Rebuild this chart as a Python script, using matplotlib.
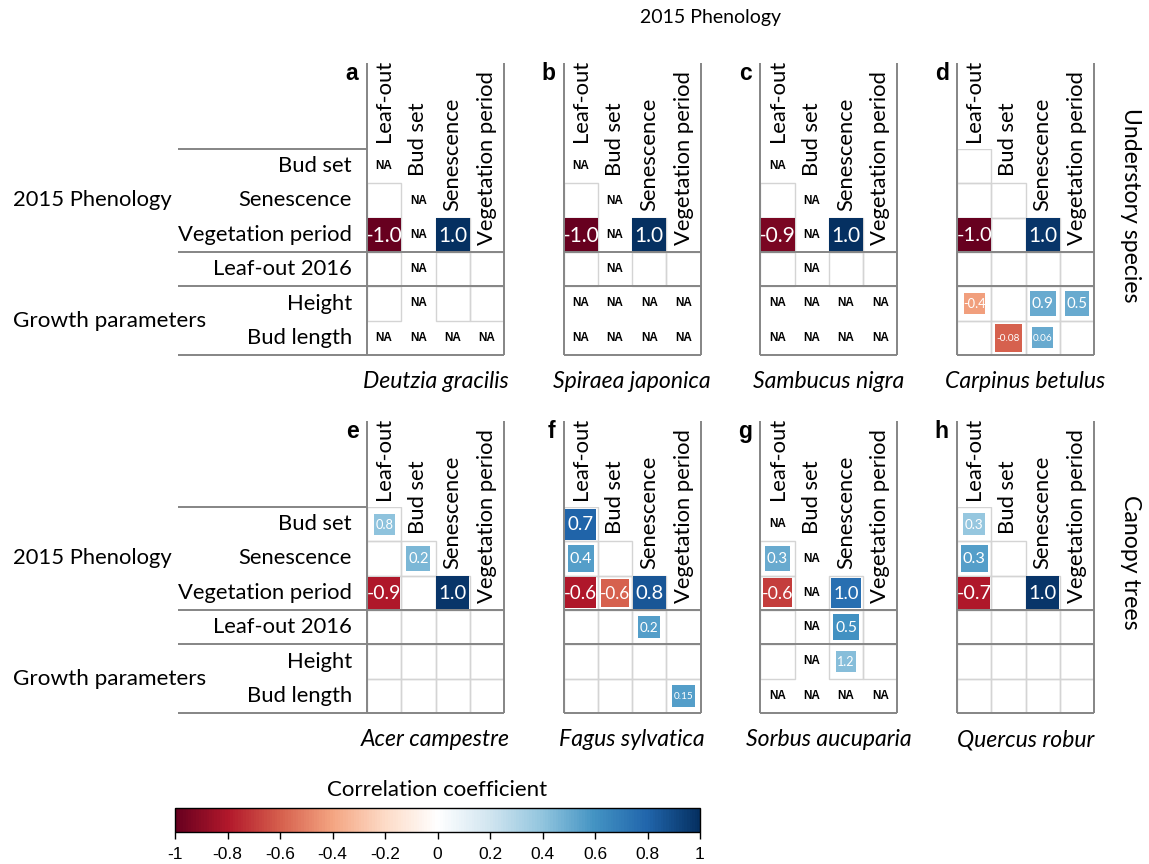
import numpy as np
import matplotlib
matplotlib.use("Agg")
import matplotlib.pyplot as plt
from matplotlib.colors import LinearSegmentedColormap, Normalize
from matplotlib.patches import Rectangle
from matplotlib.cm import ScalarMappable

# ---------------------------------------------------------------- data
ROW_NAMES = ["Bud set", "Senescence", "Vegetation period",
             "Leaf-out 2016", "Height", "Bud length"]
COL_NAMES = ["Leaf-out", "Bud set", "Senescence", "Vegetation period"]
GROUP_NAMES = ["2015 Phenology", "Growth parameters"]
TOP_TITLE = "2015 Phenology"
STRATA = ["Understory species", "Canopy trees"]
SPECIES = ["Deutzia gracilis", "Spiraea japonica", "Sambucus nigra",
           "Carpinus betulus", "Acer campestre", "Fagus sylvatica",
           "Sorbus aucuparia", "Quercus robur"]
LETTERS = ["a", "b", "c", "d", "e", "f", "g", "h"]

# coefficient cells: (row, column, printed value, colour value, square weight)
cells_a = [(2, 0, "-1.0", -1.0, 1.0), (2, 2, "1.0", 1.0, 1.0)]
cells_b = [(2, 0, "-1.0", -1.0, 1.0), (2, 2, "1.0", 1.0, 1.0)]
cells_c = [(2, 0, "-0.9", -0.95, 1.0), (2, 2, "1.0", 1.0, 1.0)]
cells_d = [(2, 0, "-1.0", -1.0, 0.97), (2, 2, "1.0", 0.97, 1.0),
           (4, 0, "-0.4", -0.42, 0.62), (4, 2, "0.9", 0.5, 0.75),
           (4, 3, "0.5", 0.5, 0.72), (5, 1, "-0.08", -0.6, 0.8),
           (5, 2, "0.06", 0.5, 0.62)]
cells_e = [(0, 0, "0.8", 0.4, 0.62), (1, 1, "0.2", 0.45, 0.7),
           (2, 0, "-0.9", -0.8, 0.93), (2, 2, "1.0", 0.97, 0.97)]
cells_f = [(0, 0, "0.7", 0.8, 0.9), (1, 0, "0.4", 0.55, 0.77),
           (2, 0, "-0.6", -0.8, 0.9), (2, 1, "-0.6", -0.6, 0.82),
           (2, 2, "0.8", 0.85, 0.97), (3, 2, "0.2", 0.55, 0.65),
           (5, 3, "0.15", 0.55, 0.65)]
cells_g = [(1, 0, "0.3", 0.5, 0.72), (2, 0, "-0.6", -0.7, 0.85),
           (2, 2, "1.0", 0.75, 0.88), (3, 2, "0.5", 0.6, 0.75),
           (4, 2, "1.2", 0.42, 0.6)]
cells_h = [(0, 0, "0.3", 0.38, 0.65), (1, 0, "0.3", 0.55, 0.78),
           (2, 0, "-0.7", -0.8, 0.95), (2, 2, "1.0", 0.97, 0.97)]

# cells without an estimate
na_a = [(0, 0), (1, 1), (2, 1), (3, 1), (4, 1), (5, 0), (5, 1), (5, 2), (5, 3)]
na_b = [(0, 0), (1, 1), (2, 1), (3, 1), (4, 0), (4, 1), (4, 2), (4, 3),
        (5, 0), (5, 1), (5, 2), (5, 3)]
na_c = [(0, 0), (1, 1), (2, 1), (3, 1), (4, 0), (4, 1), (4, 2), (4, 3),
        (5, 0), (5, 1), (5, 2), (5, 3)]
na_d = []
na_e = []
na_f = []
na_g = [(0, 0), (1, 1), (2, 1), (3, 1), (4, 1), (5, 0), (5, 1), (5, 2), (5, 3)]
na_h = []

PANEL_CELLS = [cells_a, cells_b, cells_c, cells_d, cells_e, cells_f, cells_g, cells_h]
PANEL_NA = [na_a, na_b, na_c, na_d, na_e, na_f, na_g, na_h]

CBAR_TICKS = [-1, -0.8, -0.6, -0.4, -0.2, 0, 0.2, 0.4, 0.6, 0.8, 1]

# ---------------------------------------------------------------- style
W, H = 1149, 864
BODY = ["Lato", "DejaVu Sans"]
ARIAL = ["Liberation Sans", "DejaVu Sans"]
DARK = "#858585"
LIGHT = "#d4d4d4"
LABEL_FS = 15.8

cmap = LinearSegmentedColormap.from_list(
    "corr", ["#67001F", "#B2182B", "#D6604D", "#F4A582", "#FDDBC7", "#FFFFFF",
             "#D1E5F0", "#92C5DE", "#4393C3", "#2166AC", "#053061"], N=200)
norm = Normalize(-1, 1)

fig = plt.figure(figsize=(W / 100, H / 100), dpi=100)


def box(x, y, w, h):
    return [x / W, 1 - (y + h) / H, w / W, h / H]


def has_cell(r, c):
    return c <= r if r < 3 else True


def draw_panel(ax, cells, na, letter, species, first_col):
    ax.set_xlim(0, 4)
    ax.set_ylim(6, 0)
    ax.axis("off")
    na_set = set(na)
    # light cell frames for cells that carry an estimate
    for r in range(6):
        for c in range(4):
            if not has_cell(r, c):
                continue
            if (r, c) in na_set:
                ax.text(c + 0.5, r + 0.5, "NA", ha="center", va="center",
                        fontsize=8.5, fontweight="bold", family=ARIAL)
                continue
            ax.add_patch(Rectangle((c, r), 1, 1, facecolor="none",
                                   edgecolor=LIGHT, lw=1.0, zorder=1))
    # coloured squares
    for r, c, lab, shade, wgt in cells:
        s = wgt
        ax.add_patch(Rectangle((c + 0.5 - s / 2, r + 0.5 - s / 2), s, s,
                               facecolor=cmap(norm(shade)), edgecolor="none",
                               zorder=2))
        digits = lab.lstrip("-")
        fs = 15.0 * wgt if len(digits) <= 3 else 7.2
        ax.text(c + 0.5, r + 0.52, lab, ha="center", va="center",
                color="white", fontsize=fs, family=BODY, zorder=3)
    # column headers along the diagonal
    for c, name in enumerate(COL_NAMES):
        ax.text(c + 0.5, c - 0.2, name, rotation=90, rotation_mode="anchor",
                ha="left", va="center", fontsize=LABEL_FS, family=BODY)
    # frame lines
    kw = dict(color=DARK, lw=1.4, clip_on=False, zorder=4,
              solid_capstyle="butt")
    ax.plot([0, 0], [-2.5, 6], **kw)
    ax.plot([4, 4], [-2.5, 6], **kw)
    for y in (3, 4, 6):
        ax.plot([0, 4], [y, y], **kw)
    if first_col:
        for y in (0, 3, 4, 6):
            ax.plot([-5.52, 0], [y, y], **kw)
        for r, name in enumerate(ROW_NAMES):
            ax.text(-0.44, r + 0.5, name, ha="right", va="center",
                    fontsize=LABEL_FS, family=BODY)
        ax.text(-10.35, 1.5, GROUP_NAMES[0], ha="left", va="center",
                fontsize=15.8, family=BODY)
        ax.text(-10.35, 5.0, GROUP_NAMES[1], ha="left", va="center",
                fontsize=16.2, family=BODY)
    ax.text(-0.25, -2.2, letter, ha="right", va="center", fontsize=16.5,
            fontweight="bold", family=ARIAL)
    ax.text(2.0, 6.78, species, ha="center", va="center", fontsize=16.6,
            style="italic", family=BODY)


for k in range(8):
    row, col = divmod(k, 4)
    x0 = 367 + col * 196.7
    y0 = 149 if row == 0 else 507
    ax = fig.add_axes(box(x0, y0, 137, 206))
    draw_panel(ax, PANEL_CELLS[k], PANEL_NA[k], LETTERS[k], SPECIES[k], col == 0)

fig.text(711 / W, 1 - 18 / H, TOP_TITLE, ha="center", va="center",
         fontsize=14, family=BODY)
fig.text(1131 / W, 1 - 205 / H, STRATA[0], ha="center", va="center",
         rotation=270, fontsize=16.6, family=BODY)
fig.text(1131 / W, 1 - 562 / H, STRATA[1], ha="center", va="center",
         rotation=270, fontsize=16.6, family=BODY)

# colour bar
cax = fig.add_axes(box(175, 808, 525, 24))
cb = fig.colorbar(ScalarMappable(norm=norm, cmap=cmap), cax=cax,
                  orientation="horizontal", ticks=CBAR_TICKS)
cb.outline.set_linewidth(1.0)
cb.outline.set_edgecolor("black")
cb.ax.set_xticklabels([f"{round(t, 1):g}" for t in CBAR_TICKS],
                      family=ARIAL, fontsize=12.5)
cb.ax.tick_params(axis="x", direction="out", length=5, width=1, pad=6)
fig.text(437 / W, 1 - 790 / H, "Correlation coefficient", ha="center",
         va="center", fontsize=16, family=BODY)

fig.savefig("out.png", dpi=100)
